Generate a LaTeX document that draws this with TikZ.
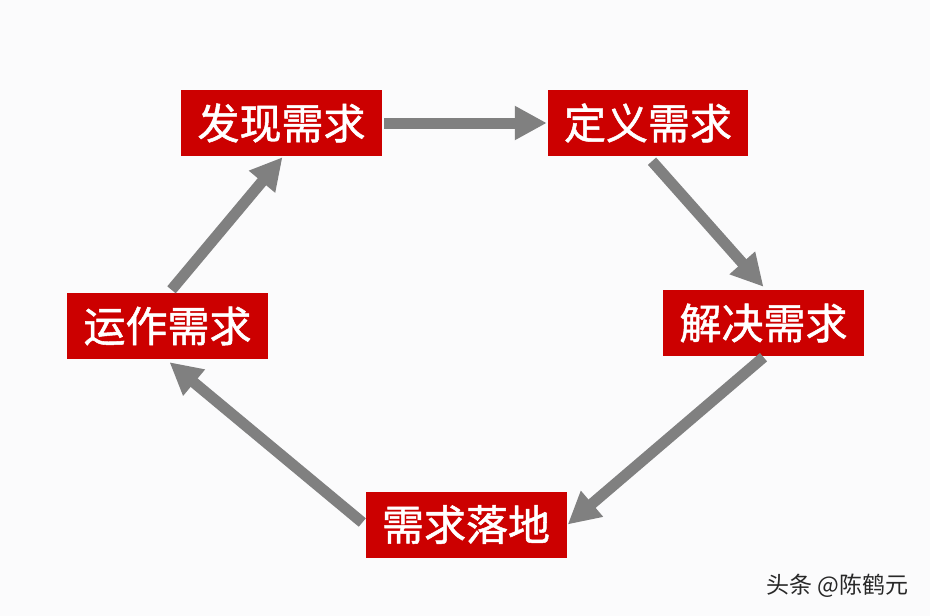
\documentclass[tikz,border=0pt]{standalone}
\usepackage{fontspec}
\newfontfamily\cjk{Noto Sans CJK SC}
\newfontfamily\cjkbox[FakeBold=1.2]{Noto Sans CJK SC}
\usetikzlibrary{arrows.meta,calc}
\definecolor{boxred}{RGB}{204,0,0}
\definecolor{arrgray}{RGB}{128,128,128}
\definecolor{bg}{RGB}{251,251,252}
\definecolor{wm}{RGB}{40,40,40}
\tikzset{
  stepbox/.style={rectangle, fill=boxred, minimum width=201pt, minimum height=66pt, inner sep=0pt,
    text=white, font=\cjkbox\fontsize{42pt}{46pt}\selectfont},
  flow/.style={draw=arrgray, line width=11pt, -{Triangle[length=32pt,width=32pt]}}
}
\begin{document}
\begin{tikzpicture}[x=1pt,y=-1pt]
\fill[bg] (0,0) rectangle (930,616);
\useasboundingbox (0,0) rectangle (930,616);
\node[stepbox] (find) at (281.5,123) {发现需求};
\node[stepbox, minimum width=200pt] (define) at (648,123) {定义需求};
\node[stepbox] (solve) at (763.5,323) {解决需求};
\node[stepbox] (land) at (466,524.5) {需求落地};
\node[stepbox] (operate) at (167.5,326) {运作需求};
\draw[flow] ($(find.east)+(2,0)$) -- ($(define.west)+(-1,0)$);
\draw[flow] ($(define.south)+(4,5)$) -- ($(solve.north)+(0,-3)$);
\draw[flow] ($(solve.south)+(0,1)$) -- ($(land.east)+(1,0)$);
\draw[flow] ($(land.west)+(-3,-2)$) -- ($(operate.south)+(2,3)$);
\draw[flow] ($(operate.north)+(4,-3)$) -- ($(find.south)+(1,1)$);
\node[anchor=west, text=wm, font=\cjk\fontsize{23pt}{26pt}\selectfont, inner sep=0pt] (mark) at (766,586) {头条 @陈鹤元};
\end{tikzpicture}
\end{document}
